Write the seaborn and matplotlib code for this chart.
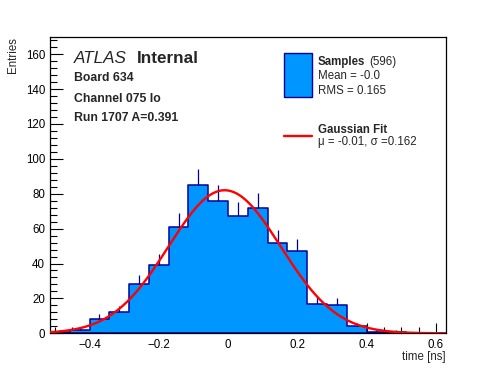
import numpy as np
import pandas as pd
import matplotlib
matplotlib.use('Agg')
import matplotlib.pyplot as plt
from matplotlib.patches import Rectangle
from matplotlib.lines import Line2D
from matplotlib.ticker import MultipleLocator, FixedLocator, FixedFormatter
import seaborn as sns

# histogram: 20 bins of width 0.4/7 ns, from -9w to 11w
bin_width = 0.4 / 7
bin_edges = bin_width * np.arange(-9, 12)
counts = [1, 2, 8, 12, 28, 39, 61, 85, 76, 67, 72, 52, 47, 17, 16, 4, 1, 1, 0, 0]

# gaussian fit parameters
fit_mu = -0.01
fit_sigma = 0.162
fit_amp = 82.0

x_ticks = [-0.4, -0.2, 0.0, 0.2, 0.4, 0.6]
x_tick_labels = ['\u22120.4', '\u22120.2', '0', '0.2', '0.4', '0.6']
y_ticks = [0, 20, 40, 60, 80, 100, 120, 140, 160]

fill_col = '#0096ff'
edge_col = '#000099'

sns.set_style('ticks')
plt.rcParams['font.family'] = ['Liberation Sans', 'DejaVu Sans']

centers = 0.5 * (bin_edges[:-1] + bin_edges[1:])
df = pd.DataFrame({'time': centers, 'n': counts})

fig = plt.figure(figsize=(4.96, 3.72), dpi=100)
ax = fig.add_axes([0.1008, 0.104, 0.7978, 0.7974])

sns.histplot(data=df, x='time', weights='n', bins=list(bin_edges), element='step',
             fill=True, color=fill_col, alpha=1, edgecolor=edge_col,
             linewidth=1.1, ax=ax)

# upper error bars sqrt(N)
err = np.sqrt(df['n'])
ax.vlines(df['time'], df['n'], df['n'] + err, color=edge_col, lw=0.9, zorder=3)

# fit curve
xs = np.linspace(bin_edges[0], bin_edges[-1], 300)
fit = pd.DataFrame({'time': xs,
                    'y': fit_amp * np.exp(-0.5 * ((xs - fit_mu) / fit_sigma) ** 2)})
sns.lineplot(data=fit, x='time', y='y', color='red', lw=1.7, ax=ax, zorder=4)

ax.set_xlim(bin_edges[0], bin_edges[-1])
ax.set_ylim(0, 170)
ax.xaxis.set_major_locator(FixedLocator(x_ticks))
ax.xaxis.set_major_formatter(FixedFormatter(x_tick_labels))
ax.xaxis.set_minor_locator(MultipleLocator(0.05))
ax.yaxis.set_major_locator(FixedLocator(y_ticks))
ax.yaxis.set_minor_locator(MultipleLocator(4))
ax.tick_params(which='both', direction='in', labelsize=8.3, width=0.8,
               top=False, right=False, colors='black')
ax.tick_params(axis='x', which='major', length=7.5, pad=4)
ax.tick_params(axis='x', which='minor', length=4)
ax.tick_params(axis='y', which='major', length=9.5, pad=3.5)
ax.tick_params(axis='y', which='minor', length=5)
for s in ax.spines.values():
    s.set_visible(True)
    s.set_color('black')
    s.set_linewidth(0.9)

ax.set_ylabel('Entries', fontsize=8.3, loc='top')
ax.yaxis.set_label_coords(-0.078, 1.0)
ax.set_xlabel('time [ns]', fontsize=8.3, loc='right')
ax.xaxis.set_label_coords(1.0, -0.058)

W, H = 496.0, 372.0

def ftext(px, py, s, **kw):
    fig.text(px / W, 1 - py / H, s, va='baseline', ha='left', **kw)

ftext(73.5, 62.7, 'ATLAS', fontsize=12.3, style='italic')
ftext(136.5, 62.7, 'Internal', fontsize=12.3, weight='bold')
ftext(73.5, 80.7, 'Board 634', fontsize=8.8, weight='bold')
ftext(73.5, 101.5, 'Channel 075 lo', fontsize=8.8, weight='bold')
ftext(73.5, 121.0, 'Run 1707 A=0.391', fontsize=8.8, weight='bold')

# legend
fig.patches.append(Rectangle((283.5 / W, 1 - 96.7 / H), 28.2 / W, 43.4 / H,
                             transform=fig.transFigure, facecolor=fill_col,
                             edgecolor=edge_col, lw=1.0))
ftext(317.7, 65.0, 'Samples', fontsize=8.3, weight='bold')
ftext(369.5, 65.0, '(596)', fontsize=8.3)
ftext(317.7, 79.3, 'Mean = -0.0', fontsize=8.3)
ftext(317.7, 94.0, 'RMS = 0.165', fontsize=8.3)
fig.lines.append(Line2D([283.5 / W, 312 / W], [1 - 136 / H, 1 - 136 / H],
                        transform=fig.transFigure, color='red', lw=1.7))
ftext(317.7, 132.7, 'Gaussian Fit', fontsize=8.3, weight='bold')
ftext(317.7, 145.5, '\u03bc = -0.01, \u03c3 =0.162', fontsize=8.3)

fig.savefig('out.png', dpi=100)
